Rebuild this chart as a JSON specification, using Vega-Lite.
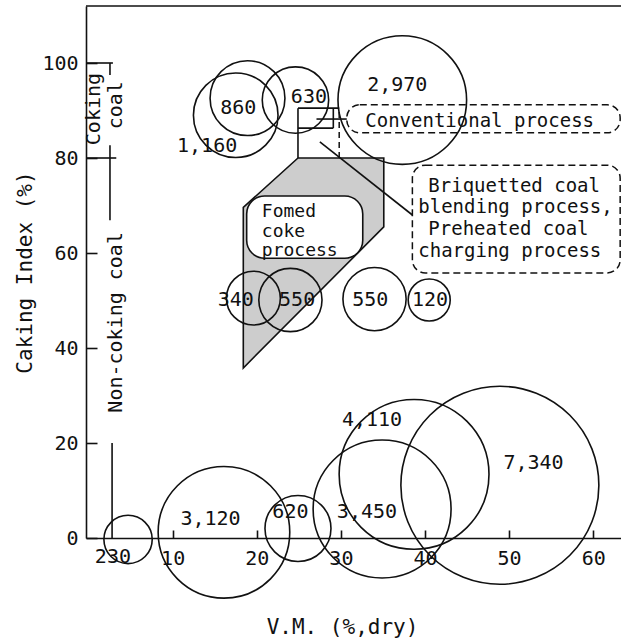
{
  "$schema": "https://vega.github.io/schema/vega-lite/v6.json",
  "width": 535,
  "height": 532,
  "autosize": "none",
  "padding": {"left": 86, "top": 6, "right": 0, "bottom": 106},
  "background": "white",
  "config": {
    "view": {"stroke": null},
    "text": {"font": "DejaVu Sans Mono", "fontSize": 20, "color": "#111"},
    "axis": {"grid": false, "domainColor": "#111", "tickColor": "#111", "labelColor": "#111", "titleColor": "#111", "domainWidth": 1.6, "tickWidth": 1.6, "labelFont": "DejaVu Sans Mono", "labelFontSize": 20, "titleFont": "DejaVu Sans Mono", "titleFontSize": 21, "titleFontWeight": "normal"}
  },
  "encoding": {
    "x": {"field": "x", "type": "quantitative", "scale": {"domain": [-0.3, 63.3], "nice": false, "zero": false},
          "axis": {"values": [10, 20, 30, 40, 50, 60], "tickSize": -8, "labelPadding": 18, "title": "V.M. (%,dry)", "titlePadding": 48, "titleX": 256}},
    "y": {"field": "y", "type": "quantitative", "scale": {"domain": [0, 112], "nice": false, "zero": false},
          "axis": {"values": [0, 20, 40, 60, 80, 100], "tickSize": -11, "labelPadding": 19, "title": "Caking Index (%)", "titlePadding": 6}}
  },
  "layer": [
    {
      "data": {"values": [
        {"i": 1, "x": 24.9, "y": 80.0},
        {"i": 2, "x": 35.1, "y": 80.0},
        {"i": 3, "x": 35.1, "y": 65.5},
        {"i": 4, "x": 18.4, "y": 35.8},
        {"i": 5, "x": 18.4, "y": 69.6},
        {"i": 6, "x": 24.9, "y": 80.0}
      ]},
      "mark": {"type": "line", "fill": "#cdcdcd", "stroke": "#111", "strokeWidth": 1.6, "strokeJoin": "miter"},
      "encoding": {
        "order": {"field": "i", "type": "quantitative"}
      }
    },
    {
      "data": {"values": [{"x": 18.8, "x2": 32.6, "y": 58.9, "y2": 72.0}]},
      "mark": {"type": "rect", "fill": "white", "stroke": "#111", "strokeWidth": 1.6, "cornerRadius": 18},
      "encoding": {"x2": {"field": "x2"}, "y2": {"field": "y2"}}
    },
    {
      "data": {"values": [
        {"x": 30.7, "x2": 63.2, "y": 85.3, "y2": 91.2},
        {"x": 38.5, "x2": 63.2, "y": 55.8, "y2": 78.5}
      ]},
      "mark": {"type": "rect", "fill": null, "stroke": "#111", "strokeWidth": 1.5, "strokeDash": [7, 4], "cornerRadius": 13},
      "encoding": {"x2": {"field": "x2"}, "y2": {"field": "y2"}}
    },
    {
      "data": {"values": [
        {"x": -0.3, "x2": 63.3, "y": 112, "y2": 112},
        {"x": -0.3, "x2": 2.9, "y": 100, "y2": 100},
        {"x": -0.3, "x2": 3.3, "y": 80, "y2": 80},
        {"x": 2.55, "x2": 2.55, "y": 100, "y2": 97.5},
        {"x": 2.55, "x2": 2.55, "y": 82.7, "y2": 66.9},
        {"x": 2.8, "x2": 2.8, "y": 20, "y2": 0},
        {"x": 27.1, "x2": 30.7, "y": 88.2, "y2": 88.2},
        {"x": 27.5, "x2": 38.5, "y": 83.4, "y2": 68.0},
        {"x": 24.9, "x2": 24.9, "y": 80, "y2": 90.5},
        {"x": 24.9, "x2": 29.8, "y": 90.5, "y2": 90.5},
        {"x": 29.1, "x2": 29.1, "y": 90.5, "y2": 86.3},
        {"x": 24.9, "x2": 29.1, "y": 86.3, "y2": 86.3}
      ]},
      "mark": {"type": "rule", "stroke": "#111", "strokeWidth": 1.6},
      "encoding": {"x2": {"field": "x2"}, "y2": {"field": "y2"}}
    },
    {
      "data": {"values": [
        {"x": 29.8, "x2": 29.8, "y": 80, "y2": 90.5}
      ]},
      "mark": {"type": "rule", "stroke": "#111", "strokeWidth": 1.5, "strokeDash": [6, 4]},
      "encoding": {"x2": {"field": "x2"}, "y2": {"field": "y2"}}
    },
    {
      "data": {"values": [
        {"x": 48.9, "y": 11.1, "v": 7340},
        {"x": 38.7, "y": 13.4, "v": 4110},
        {"x": 34.9, "y": 6.1, "v": 3450},
        {"x": 16.1, "y": 1.2, "v": 3120},
        {"x": 24.9, "y": 2.0, "v": 620},
        {"x": 4.7, "y": -0.3, "v": 230},
        {"x": 17.5, "y": 89.0, "v": 1160},
        {"x": 18.9, "y": 92.6, "v": 860},
        {"x": 24.6, "y": 92.2, "v": 630},
        {"x": 37.3, "y": 92.2, "v": 2970},
        {"x": 19.6, "y": 50.5, "v": 340},
        {"x": 24.0, "y": 50.1, "v": 550},
        {"x": 34.0, "y": 50.3, "v": 550},
        {"x": 40.5, "y": 50.1, "v": 120}
      ]},
      "mark": {"type": "point", "shape": "circle", "filled": false, "stroke": "#111", "strokeWidth": 1.6, "opacity": 1},
      "encoding": {
        "size": {"field": "v", "type": "quantitative", "scale": {"domain": [0, 7340], "range": [1142, 39204]}, "legend": null}
      }
    },
    {
      "data": {"values": [
        {"x": 36.7, "y": 95.4, "t": "2,970"},
        {"x": 26.2, "y": 92.9, "t": "630"},
        {"x": 17.8, "y": 90.5, "t": "860"},
        {"x": 14.1, "y": 82.5, "t": "1,160"},
        {"x": 17.5, "y": 50.1, "t": "340"},
        {"x": 24.8, "y": 50.1, "t": "550"},
        {"x": 33.5, "y": 50.1, "t": "550"},
        {"x": 40.6, "y": 50.1, "t": "120"},
        {"x": 14.5, "y": 4.0, "t": "3,120"},
        {"x": 24.0, "y": 5.4, "t": "620"},
        {"x": 2.9, "y": -4.1, "t": "230"},
        {"x": 33.1, "y": 5.5, "t": "3,450"},
        {"x": 33.7, "y": 24.8, "t": "4,110"},
        {"x": 52.9, "y": 15.7, "t": "7,340"}
      ]},
      "mark": {"type": "text", "align": "center", "baseline": "middle", "fontSize": 20},
      "encoding": {"text": {"field": "t"}}
    },
    {
      "data": {"values": [
        {"x": 32.9, "y": 86.5, "t": "Conventional process"},
        {"x": 40.4, "y": 72.8, "t": "Briquetted coal"},
        {"x": 39.2, "y": 68.5, "t": "blending process,"},
        {"x": 40.4, "y": 63.8, "t": "Preheated coal"},
        {"x": 39.2, "y": 59.2, "t": "charging process"}
      ]},
      "mark": {"type": "text", "align": "left", "baseline": "alphabetic", "fontSize": 19},
      "encoding": {"text": {"field": "t"}}
    },
    {
      "data": {"values": [
        {"x": 20.6, "y": 67.5, "t": "Fomed"},
        {"x": 20.6, "y": 63.4, "t": "coke"},
        {"x": 20.6, "y": 59.4, "t": "process"}
      ]},
      "mark": {"type": "text", "align": "left", "baseline": "alphabetic", "fontSize": 18},
      "encoding": {"text": {"field": "t"}}
    },
    {
      "data": {"values": [
        {"x": 0.7, "y": 90.3, "t": "Coking"},
        {"x": 3.3, "y": 91.1, "t": "coal"},
        {"x": 3.3, "y": 45.4, "t": "Non-coking coal"}
      ]},
      "mark": {"type": "text", "align": "center", "baseline": "middle", "angle": 270, "fontSize": 20},
      "encoding": {"text": {"field": "t"}}
    }
  ]
}
